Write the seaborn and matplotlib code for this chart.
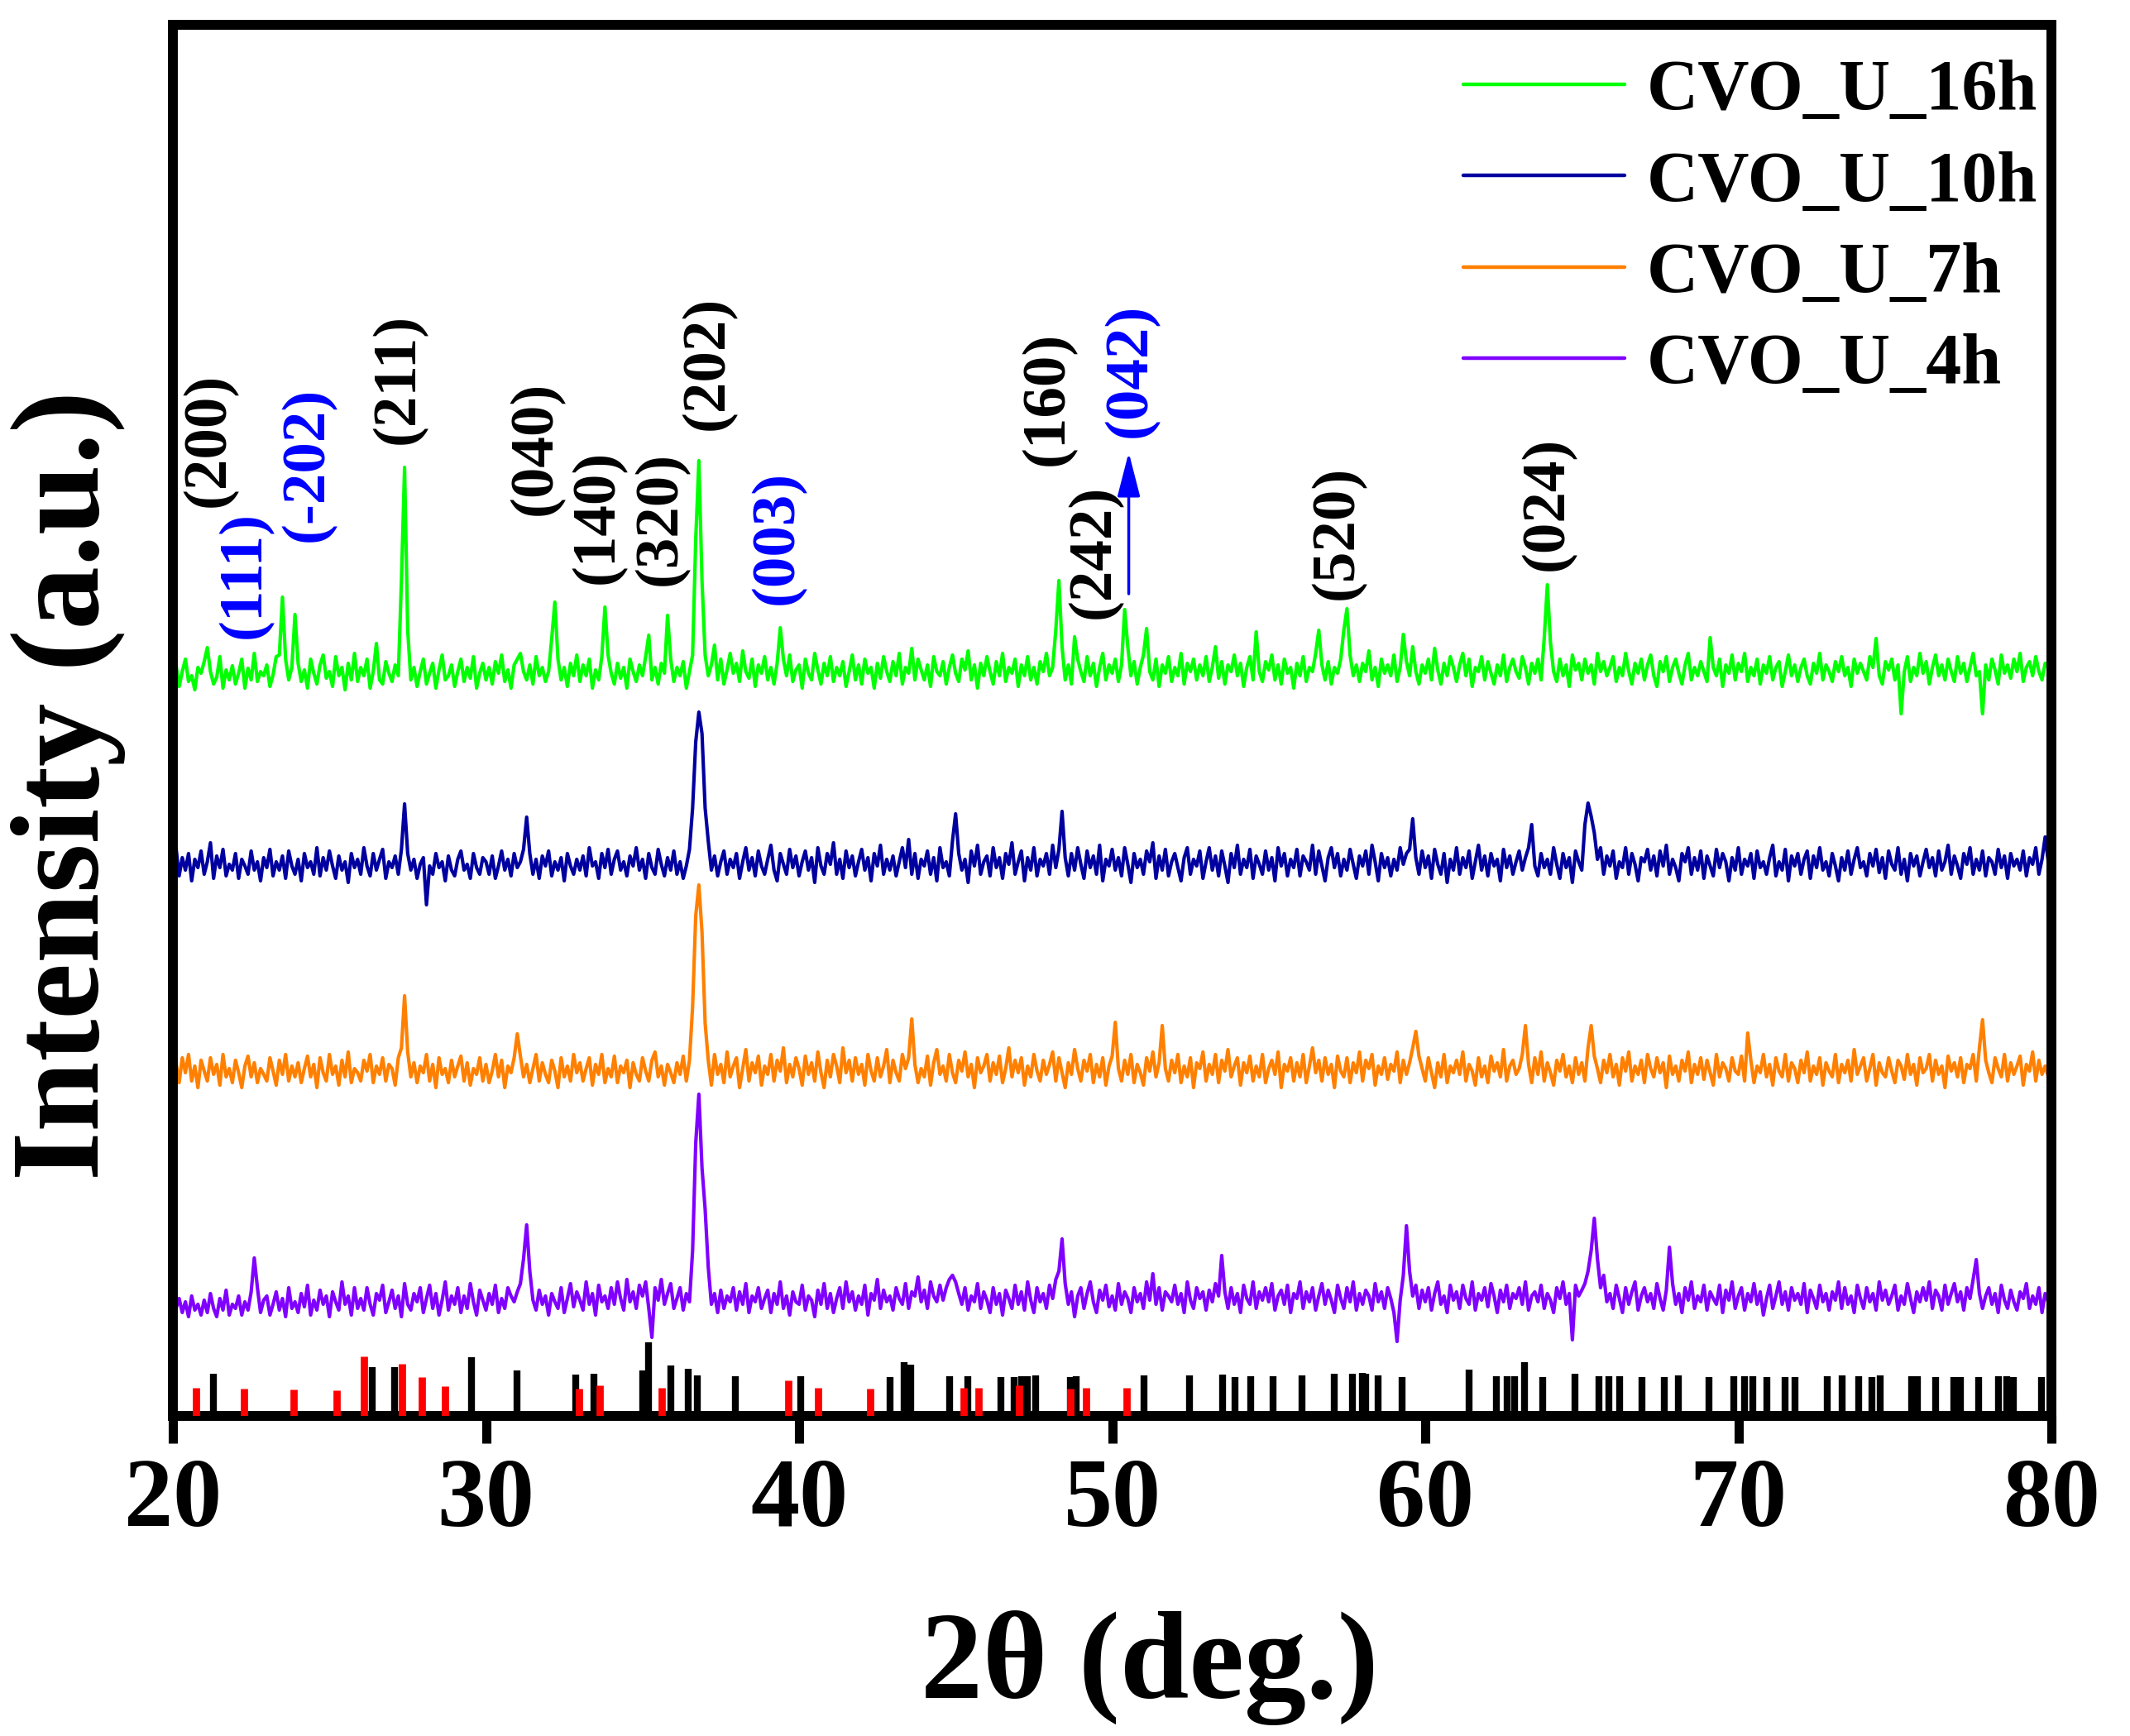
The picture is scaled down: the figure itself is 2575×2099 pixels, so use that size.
import numpy as np
import pandas as pd
import matplotlib
matplotlib.use("Agg")
import matplotlib.pyplot as plt
import seaborn as sns

# ---------------- data ----------------
two_theta = np.round(np.arange(20.0, 80.0001, 0.1), 1)

cvo_16h = [
    30, 48, 22, 40, 55, 28, 35, 18, 45, 38,
    52, 69, 40, 25, 33, 58, 20, 42, 30, 47,
    25, 38, 55, 20, 44, 30, 62, 28, 40, 35,
    48, 22, 36, 58, 60, 130, 55, 30, 45, 109,
    50, 28, 42, 20, 55, 38, 25, 48, 60, 32,
    40, 22, 58, 35, 45, 18, 50, 30, 62, 28,
    45, 35, 55, 20, 40, 74, 30, 25, 52, 38,
    28, 48, 35, 150, 287, 90, 30, 45, 22, 40,
    55, 25, 38, 50, 20, 42, 60, 30, 35, 48,
    22, 40, 55, 28, 45, 32, 58, 20, 38, 50,
    30, 45, 25, 52, 38, 60, 28, 42, 20, 48,
    55, 62, 40, 30, 48, 25, 58, 35, 45, 28,
    40, 80, 124, 55, 30, 45, 22, 50, 35, 60,
    28, 48, 35, 55, 20, 42, 30, 58, 118, 60,
    38, 25, 50, 32, 45, 20, 55, 40, 28, 48,
    35, 58, 84, 30, 45, 25, 50, 38, 108, 55,
    28, 45, 35, 52, 20, 40, 60, 200, 295, 150,
    60, 35, 48, 72, 30, 55, 25, 42, 62, 38,
    50, 28, 65, 40, 32, 55, 22, 48, 38, 58,
    30, 45, 25, 50, 93, 55, 35, 60, 28, 42,
    48, 20, 55, 38, 30, 62, 42, 25, 50, 35,
    58, 28, 45, 35, 52, 22, 40, 60, 30, 48,
    25, 55, 38, 45, 20, 50, 32, 58, 40, 28,
    52, 35, 62, 25, 45, 38, 68, 30, 55, 42,
    30, 48, 22, 58, 40, 35, 52, 25, 45, 60,
    38, 28, 55, 42, 65, 30, 48, 20, 50, 35,
    58, 40, 25, 52, 35, 62, 28, 45, 38, 55,
    22, 48, 35, 58, 30, 45, 25, 52, 40, 62,
    35, 45, 90, 150, 70, 30, 48, 25, 82, 55,
    40, 28, 58, 35, 50, 22, 45, 62, 30, 48,
    38, 55, 28, 48, 115, 70, 35, 52, 25, 45,
    60, 92, 40, 30, 55, 22, 48, 38, 58, 28,
    45, 35, 62, 25, 50, 40, 55, 30, 48, 35,
    58, 28, 45, 70, 32, 52, 25, 48, 40, 60,
    35, 50, 22, 45, 58, 30, 88, 40, 28, 52,
    42, 60, 30, 48, 25, 55, 38, 45, 20, 50,
    35, 58, 28, 45, 40, 62, 90, 48, 30, 52,
    25, 45, 38, 55, 90, 116, 60, 35, 48, 28,
    50, 40, 65, 30, 45, 22, 55, 38, 48, 35,
    60, 28, 45, 85, 52, 35, 70, 40, 25, 48,
    38, 55, 30, 68, 42, 25, 50, 35, 58, 45,
    28, 48, 62, 35, 55, 22, 45, 40, 58, 30,
    52, 38, 25, 48, 35, 60, 28, 45, 55, 40,
    32, 58, 45, 25, 50, 38, 55, 30, 80, 145,
    75, 40, 28, 55, 35, 48, 22, 60, 42, 50,
    30, 55, 38, 48, 25, 62, 40, 52, 35, 45,
    58, 28, 45, 35, 62, 40, 25, 50, 38, 55,
    30, 48, 60, 35, 22, 52, 40, 58, 28, 45,
    55, 38, 25, 48, 62, 30, 45, 35, 52, 40,
    28, 81, 45, 35, 55, 22, 48, 38, 60, 30,
    50, 40, 62, 28, 45, 35, 55, 25, 48, 38,
    58, 30, 45, 52, 22, 40, 60, 35, 48, 28,
    45, 55, 35, 25, 50, 38, 62, 30, 48, 40,
    28, 52, 40, 58, 35, 45, 22, 55, 38, 50,
    40, 30, 58, 45, 80, 35, 25, 52, 42, 55,
    30, 48, -11, 40, 58, 28, 45, 35, 62, 38,
    52, 25, 45, 60, 35, 48, 30, 55, 40, 28,
    58, 38, 50, 28, 45, 62, 35, 40, -11, 48,
    30, 55, 42, 25, 60, 38, 48, 32, 55, 40,
    62, 28, 45, 52, 35, 58, 40, 30, 50, 45,
    42,
]

cvo_10h = [
    40, 62, 28, 50, 35, 55, 22, 48, 38, 58,
    30, 45, 68, 25, 52, 38, 60, 28, 42, 35,
    55, 25, 48, 40, 30, 58, 35, 45, 22, 50,
    38, 60, 28, 45, 35, 52, 25, 58, 40, 30,
    48, 22, 55, 38, 45, 30, 62, 28, 50, 35,
    58, 40, 25, 52, 35, 45, 20, 55, 38, 48,
    30, 62, 40, 28, 55, 35, 48, 60, 25, 45,
    38, 52, 30, 60, 115, 55, 35, 48, 25, 42,
    50, -7, 40, 30, 55, 38, 45, 22, 52, 35,
    28, 48, 58, 35, 42, 25, 55, 38, 30, 50,
    45, 30, 52, 25, 40, 58, 35, 48, 28, 55,
    38, 45, 60, 99, 55, 30, 48, 25, 52, 40,
    58, 28, 45, 35, 50, 22, 55, 40, 30, 48,
    35, 52, 28, 62, 40, 45, 25, 55, 38, 60,
    30, 48, 58, 35, 45, 28, 52, 40, 62, 35,
    48, 25, 55, 38, 30, 60, 42, 28, 50, 35,
    58, 30, 45, 25, 40, 60, 110, 190, 226, 200,
    110, 70, 35, 52, 28, 45, 58, 30, 48, 38,
    55, 25, 45, 62, 35, 50, 28, 58, 40, 30,
    48, 65, 35, 22, 55, 42, 30, 60, 38, 52,
    28, 45, 58, 35, 50, 20, 62, 40, 30, 55,
    42, 68, 30, 48, 25, 58, 38, 52, 28, 45,
    60, 35, 50, 22, 55, 40, 65, 30, 48, 35,
    52, 28, 45, 62, 38, 72, 30, 55, 25, 48,
    40, 58, 30, 50, 22, 62, 38, 45, 28, 70,
    103, 55, 35, 48, 20, 58, 40, 65, 30, 45,
    52, 28, 62, 38, 50, 25, 55, 42, 68, 30,
    45, 58, 22, 50, 35, 62, 28, 48, 40, 55,
    30, 65, 38, 60, 106, 50, 28, 55, 35, 62,
    42, 25, 58, 38, 52, 30, 65, 22, 48, 40,
    60, 35, 50, 28, 62, 42, 20, 55, 38, 48,
    30, 58, 45, 68, 25, 52, 35, 60, 28, 45,
    55, 38, 22, 50, 62, 30, 48, 40, 58, 25,
    45, 62, 35, 52, 28, 58, 40, 20, 55, 38,
    65, 30, 48, 38, 60, 25, 52, 42, 30, 58,
    35, 50, 22, 62, 40, 55, 28, 48, 38, 60,
    28, 52, 45, 35, 65, 30, 58, 40, 22, 50,
    62, 38, 55, 28, 48, 35, 60, 42, 25, 52,
    40, 58, 30, 65, 45, 22, 55, 38, 50, 28,
    48, 35, 62, 42, 55, 60, 97, 50, 30, 58,
    38, 52, 25, 60, 42, 30, 55, 20, 48, 35,
    62, 30, 50, 38, 58, 25, 45, 65, 35, 52,
    28, 55, 40, 48, 22, 60, 38, 52, 30, 45,
    58, 35, 50, 62, 90, 40, 28, 55, 38, 48,
    30, 62, 42, 25, 55, 38, 50, 20, 58, 45,
    35, 90, 116, 100, 80, 48, 62, 30, 52, 40,
    58, 25, 45, 38, 62, 30, 55, 42, 22, 50,
    45, 60, 35, 52, 28, 58, 40, 65, 30, 48,
    38, 22, 55, 45, 62, 30, 50, 35, 58, 25,
    52, 40, 28, 60, 38, 55, 45, 22, 50, 35,
    62, 30, 48, 40, 55, 25, 58, 38, 45, 30,
    50, 65, 28, 45, 35, 60, 22, 52, 40, 55,
    30, 48, 58, 25, 52, 38, 62, 35, 45, 28,
    55, 40, 22, 50, 35, 58, 30, 48, 62, 38,
    45, 28, 55, 40, 60, 32, 50, 25, 58, 42,
    35, 62, 30, 48, 22, 55, 40, 52, 28, 45,
    60, 38, 50, 28, 58, 35, 45, 65, 30, 52,
    40, 25, 55, 42, 62, 30, 48, 35, 58, 28,
    50, 45, 30, 60, 38, 52, 25, 55, 40, 48,
    35, 58, 28, 50, 42, 62, 30, 48, 75, 45,
    50,
]

cvo_7h = [
    35, 52, 28, 58, 40, 62, 30, 48, 22, 55,
    42, 30, 58, 38, 50, 25, 62, 35, 45, 28,
    55, 40, 22, 48, 60, 35, 52, 28, 45, 38,
    30, 58, 42, 25, 55, 38, 62, 30, 48, 35,
    52, 28, 45, 60, 35, 50, 22, 58, 40, 30,
    62, 38, 48, 25, 55, 35, 65, 28, 45, 40,
    30, 55, 42, 62, 28, 48, 38, 58, 30, 50,
    45, 25, 58, 70, 133, 65, 35, 52, 28, 48,
    40, 62, 30, 50, 22, 58, 38, 45, 28, 55,
    35, 48, 60, 30, 52, 25, 45, 38, 58, 30,
    50, 28, 42, 62, 35, 55, 22, 48, 40, 58,
    87, 60, 35, 50, 28, 45, 62, 30, 52, 38,
    28, 55, 42, 22, 58, 35, 48, 30, 62, 40,
    52, 30, 45, 58, 25, 50, 38, 62, 28, 45,
    35, 60, 28, 48, 40, 55, 22, 52, 38, 30,
    58, 42, 30, 55, 65, 35, 48, 25, 50, 40,
    28, 52, 38, 60, 30, 55, 120, 230, 267, 210,
    100, 55, 25, 62, 38, 50, 28, 65, 35, 48,
    58, 22, 45, 68, 30, 52, 40, 60, 25, 48,
    38, 62, 30, 55, 42, 70, 28, 50, 35, 58,
    45, 25, 60, 38, 52, 30, 65, 40, 22, 55,
    35, 62, 48, 28, 70, 40, 55, 30, 58, 38,
    50, 25, 62, 42, 30, 58, 35, 48, 68, 28,
    55, 40, 30, 62, 45, 58, 105, 50, 28, 45,
    35, 60, 25, 52, 68, 38, 48, 30, 62, 40,
    28, 55, 42, 65, 35, 50, 22, 58, 40, 48,
    62, 30, 52, 38, 60, 28, 45, 70, 35, 55,
    40, 58, 25, 48, 35, 62, 42, 30, 55, 38,
    50, 65, 30, 58, 40, 22, 52, 38, 68, 45,
    30, 55, 42, 62, 28, 50, 35, 58, 25, 48,
    60, 101, 45, 30, 55, 38, 62, 28, 50, 40,
    25, 58, 42, 65, 35, 52, 97, 45, 30, 55,
    40, 62, 28, 48, 35, 58, 22, 52, 45, 65,
    30, 50, 38, 62, 28, 55, 42, 68, 35, 48,
    58, 25, 52, 40, 60, 30, 48, 35, 62, 28,
    45, 55, 38, 65, 22, 50, 42, 58, 30, 52,
    35, 62, 28, 48, 70, 40, 55, 30, 58, 38,
    50, 22, 60, 42, 35, 58, 28, 52, 40, 65,
    30, 55, 45, 62, 25, 48, 38, 58, 32, 50,
    42, 65, 28, 55, 38, 52, 70, 90, 60, 45,
    30, 58, 40, 22, 52, 35, 62, 28, 48, 40,
    55, 38, 65, 30, 50, 42, 25, 58, 35, 48,
    28, 60, 42, 52, 35, 68, 30, 48, 55, 38,
    45, 62, 97, 50, 28, 58, 38, 65, 30, 52,
    40, 25, 55, 42, 62, 35, 48, 28, 58, 38,
    52, 30, 70, 97, 60, 45, 28, 55, 40, 62,
    35, 50, 25, 58, 42, 65, 30, 48, 38, 55,
    28, 62, 45, 35, 58, 40, 52, 22, 60, 38,
    48, 30, 55, 42, 65, 28, 50, 38, 58, 32,
    55, 40, 25, 62, 35, 52, 45, 30, 58, 42,
    38, 60, 30, 88, 55, 28, 48, 40, 62, 35,
    50, 25, 58, 42, 35, 62, 30, 52, 45, 28,
    55, 40, 65, 30, 48, 38, 58, 25, 52, 42,
    35, 62, 28, 50, 40, 55, 30, 68, 38, 48,
    58, 30, 45, 62, 25, 52, 40, 35, 58, 42,
    28, 55, 48, 32, 62, 38, 50, 25, 58, 40,
    45, 62, 30, 55, 38, 48, 22, 60, 42, 52,
    35, 58, 28, 50, 45, 62, 30, 70, 104, 55,
    40, 28, 58, 45, 35, 62, 30, 52, 38, 48,
    60, 25, 50, 42, 65, 30, 55, 38, 48, 35,
    50,
]

cvo_4h = [
    55, 30, 42, 25, 38, 20, 45, 28, 35, 22,
    40, 25, 48, 30, 20, 42, 28, 52, 22, 35,
    30, 45, 22, 38, 28, 50, 91, 55, 25, 40,
    45, 22, 35, 50, 28, 42, 20, 55, 30, 38,
    25, 48, 32, 58, 22, 40, 28, 52, 35, 45,
    20, 50, 38, 28, 62, 35, 45, 22, 55, 30,
    42, 28, 55, 35, 22, 48, 40, 58, 25, 38,
    52, 30, 45, 20, 60, 35, 28, 48, 38, 55,
    25, 42, 58, 30, 48, 22, 40, 62, 28, 45,
    35, 55, 25, 45, 30, 60, 38, 22, 52, 40,
    28, 48, 35, 58, 25, 42, 30, 55, 45, 38,
    50, 60, 90, 131, 75, 40, 28, 52, 35, 45,
    22, 48, 38, 30, 55, 25, 42, 60, 32, 50,
    40, 28, 62, 35, 48, 22, 58, 38, 45, 30,
    55, 35, 62, 42, 28, 65, 38, 50, 30, 58,
    45, 62, 30, -5, 55, 40, 65, 35, 48, 60,
    30, 42, 55, 28, 48, 38, 100, 230, 289, 200,
    150, 80, 35, 48, 25, 52, 30, 45, 38, 55,
    28, 50, 35, 60, 25, 45, 38, 55, 30, 42,
    52, 25, 48, 35, 62, 30, 45, 22, 50, 38,
    35, 58, 28, 45, 40, 20, 52, 35, 60, 30,
    48, 25, 42, 55, 30, 62, 38, 50, 28, 45,
    35, 58, 22, 48, 40, 65, 30, 52, 38, 45,
    28, 55, 42, 35, 60, 30, 50, 45, 68, 38,
    52, 30, 62, 45, 38, 58, 40, 55, 65, 70,
    62, 48, 35, 55, 28, 45, 38, 60, 30, 50,
    40, 25, 55, 35, 48, 22, 52, 42, 30, 58,
    35, 50, 28, 62, 40, 25, 55, 38, 48, 30,
    58, 42, 65, 75, 114, 60, 35, 50, 20, 45,
    55, 30, 48, 62, 38, 25, 52, 40, 58, 32,
    45, 28, 60, 35, 50, 42, 25, 55, 38, 48,
    30, 62, 40, 72, 35, 55, 28, 50, 45, 38,
    58, 35, 48, 25, 62, 40, 30, 55, 42, 50,
    28, 52, 38, 60, 45, 94, 50, 30, 55, 35,
    48, 25, 58, 42, 35, 62, 30, 50, 40, 55,
    38, 60, 28, 45, 52, 35, 58, 25, 48, 42,
    62, 30, 50, 38, 55, 28, 45, 60, 35, 52,
    40, 25, 58, 42, 30, 55, 38, 62, 28, 48,
    35, 52, 45, 28, 60, 38, 50, 30, 55, 42,
    25, -10, 40, 70, 130, 75, 45, 58, 30, 52,
    38, 55, 28, 48, 62, 35, 45, 25, 58, 40,
    50, 30, 58, 42, 35, 62, 28, 48, 40, 55,
    32, 60, 45, 25, 52, 38, 58, 30, 48, 42,
    55, 35, 62, 28, 45, 50, 38, 58, 30, 48,
    40, 25, 55, 42, 62, 35, 48, -8, 58, 45,
    52, 60, 75, 100, 139, 90, 55, 70, 38, 48,
    30, 58, 42, 25, 55, 35, 50, 62, 28, 45,
    55, 38, 48, 30, 60, 42, 28, 52, 104, 60,
    35, 48, 25, 55, 40, 62, 30, 45, 38, 58,
    28, 50, 42, 35, 58, 25, 52, 40, 62, 30,
    45, 55, 28, 48, 38, 60, 35, 50, 22, 42,
    58, 30, 45, 62, 35, 50, 28, 55, 40, 48,
    35, 60, 25, 52, 42, 30, 58, 38, 48, 28,
    50, 40, 62, 30, 55, 35, 45, 25, 58, 42,
    30, 55, 38, 48, 28, 62, 40, 52, 35, 45,
    58, 28, 45, 35, 60, 42, 25, 50, 38, 55,
    40, 62, 30, 52, 45, 28, 58, 35, 48, 60,
    38, 50, 28, 55, 42, 65, 89, 48, 30, 45,
    55, 35, 48, 25, 58, 40, 30, 52, 38, 28,
    50, 42, 60, 30, 45, 35, 55, 25, 48, 38,
    40,
]

sample_labels = ["CVO_U_16h", "CVO_U_10h", "CVO_U_7h", "CVO_U_4h"]
x_ticks = [20, 30, 40, 50, 60, 70, 80]

# reference stick pattern (black phase, red phase)
ref_black_pos = [21.30, 26.36, 27.09, 29.54, 30.98, 32.86, 33.45, 35.00, 35.18, 35.91,
                 36.45, 36.74, 37.96, 40.04, 42.91, 43.36, 43.57, 44.80, 45.39, 46.44,
                 46.86, 47.10, 47.30, 47.56, 48.66, 48.85, 51.01, 52.47, 53.52, 53.92,
                 54.43, 55.14, 56.07, 57.10, 57.68, 58.00, 58.11, 58.50, 59.26, 61.40,
                 62.27, 62.62, 62.85, 63.17, 63.74, 64.77, 65.55, 65.86, 66.22, 66.93,
                 67.64, 68.09, 69.06, 69.85, 70.19, 70.45, 70.90, 71.48, 71.80, 72.83,
                 73.31, 73.84, 74.26, 74.52, 75.53, 75.71, 76.31, 76.87, 77.10, 77.67,
                 78.31, 78.57, 78.78, 79.68]
ref_black_int = [51, 59, 59, 71, 55, 50, 51, 55, 89, 61,
                 57, 49, 48, 48, 47, 65, 62, 48, 48, 47,
                 47, 48, 48, 49, 47, 48, 49, 49, 50, 47,
                 48, 48, 49, 51, 51, 52, 51, 49, 47, 56,
                 48, 48, 48, 65, 47, 51, 48, 48, 48, 47,
                 47, 49, 47, 48, 48, 48, 47, 47, 47, 48,
                 49, 48, 47, 49, 48, 48, 47, 47, 47, 47,
                 48, 48, 47, 47]
ref_red_pos = [20.74, 22.28, 23.86, 25.24, 26.10, 27.33, 27.94, 28.68, 32.96, 33.63,
               35.61, 39.66, 40.61, 42.27, 45.26, 45.73, 47.04, 48.66, 49.18, 50.47]
ref_red_int = [34, 33, 32, 31, 72, 63, 47, 36, 33, 37,
               34, 43, 34, 33, 34, 34, 37, 33, 34, 34]

# peak labels
peak_text = ["(200)", "(111)", "(-202)", "(211)", "(040)", "(140)", "(320)", "(202)",
             "(003)", "(160)", "(242)", "(042)", "(520)", "(024)"]
peak_pos = [21.16, 22.29, 24.31, 27.22, 31.60, 33.57, 35.58, 37.09,
            39.32, 47.94, 49.42, 50.60, 57.20, 63.90]
peak_base = [1099, 940, 1057, 1175, 1089, 1006, 1004, 1192,
             981, 1149, 964, 1183, 987, 1022]
peak_blue = [False, True, True, False, False, False, False, False,
             True, False, False, True, False, False]

# ---------------- style ----------------
sns.set_theme(style="ticks")
plt.rcParams["font.family"] = ["Liberation Serif", "DejaVu Serif"]
plt.rcParams["font.weight"] = "bold"
plt.rcParams["text.color"] = "black"
plt.rcParams["axes.labelcolor"] = "black"
plt.rcParams["axes.edgecolor"] = "black"
plt.rcParams["xtick.color"] = "black"
plt.rcParams["xtick.labelcolor"] = "black"
plt.rcParams["xtick.bottom"] = True
plt.rcParams["xtick.direction"] = "out"
plt.rcParams["xtick.major.size"] = 24
plt.rcParams["xtick.major.width"] = 8
plt.rcParams["ytick.left"] = False

colors = {"CVO_U_16h": "#00ff00", "CVO_U_10h": "#0000a0",
          "CVO_U_7h": "#ff8000", "CVO_U_4h": "#8000ff"}
offsets = {"CVO_U_16h": 860, "CVO_U_10h": 625, "CVO_U_7h": 375, "CVO_U_4h": 100}
series = {"CVO_U_16h": cvo_16h, "CVO_U_10h": cvo_10h,
          "CVO_U_7h": cvo_7h, "CVO_U_4h": cvo_4h}

rows = []
for lab in sample_labels:
    vals = np.asarray(series[lab], dtype=float)
    rows.append(pd.DataFrame({"two_theta": two_theta, "intensity": vals + offsets[lab],
                              "sample": lab}))
df = pd.concat(rows, ignore_index=True)

W, H = 2575, 2099
fig = plt.figure(figsize=(W / 100, H / 100), dpi=100)
left, right, top, bottom = 209, 2480, 30, 1712
ax = fig.add_axes([left / W, 1 - bottom / H, (right - left) / W, (bottom - top) / H])

sns.lineplot(data=df, x="two_theta", y="intensity", hue="sample",
             hue_order=sample_labels, palette=colors, estimator=None, sort=False,
             linewidth=3.0, ax=ax)

# reference sticks
ax.vlines(ref_black_pos, 0, ref_black_int, colors="black", linewidth=6.0, zorder=3)
ax.vlines(ref_red_pos, 0, ref_red_int, colors="red", linewidth=6.3, zorder=4)

# peak labels
for t, x, yb, blue in zip(peak_text, peak_pos, peak_base, peak_blue):
    ax.text(x, yb, t, rotation=90, ha="center", va="bottom", fontsize=54,
            fontweight="bold", color="blue" if blue else "black")

# arrow to (042)
ax.annotate("", xy=(50.53, 1165), xytext=(50.53, 994),
            arrowprops=dict(arrowstyle="-|>,head_length=0.33,head_width=0.085",
                            color="blue", lw=2.5, mutation_scale=100,
                            shrinkA=0, shrinkB=0))

ax.set_xlim(20, 80)
ax.set_ylim(0, bottom - top)
ax.set_xticks(x_ticks)
ax.set_yticks([])
ax.set_xlabel("")
ax.set_ylabel("")
ax.tick_params(axis="x", which="major", direction="out", length=24, width=8, pad=13,
               labelsize=85, bottom=True, color="black", labelcolor="black")
for sp in ax.spines.values():
    sp.set_visible(True)
    sp.set_linewidth(8.6)

fig.text(1390 / W, 1 - 2017 / H, "2θ (deg.)", ha="center", va="center",
         fontsize=108, fontweight="bold", color="black")
fig.text(82 / W, 1 - 949 / H, "Intensity (a.u.)", ha="center", va="center",
         rotation=90, fontsize=110, fontweight="bold", color="black")

old = ax.get_legend()
handles = old.legend_handles
labels = [t.get_text() for t in old.get_texts()]
old.remove()
leg = ax.legend(handles, labels, loc="upper left",
                bbox_to_anchor=((1769 - left) / (right - left), (bottom - 72) / (bottom - top)),
                frameon=False, prop={"weight": "bold", "size": 62},
                handlelength=2.27, handletextpad=0.3, labelspacing=0.36,
                borderpad=0, borderaxespad=0)
for ln in leg.get_lines():
    ln.set_linewidth(3.2)

fig.savefig("out.png", dpi=100, facecolor="white")
